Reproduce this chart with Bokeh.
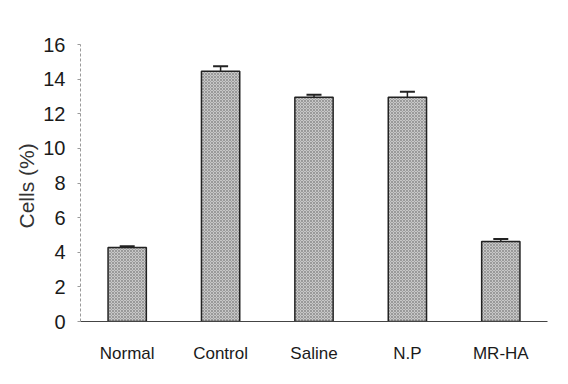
from bokeh.plotting import figure
from bokeh.models import ColumnDataSource, Whisker, TeeHead, FixedTicker, Range1d
from bokeh.embed import file_html
from bokeh.resources import INLINE

categories = ["Normal", "Control", "Saline", "N.P", "MR-HA"]
values = [4.28, 14.45, 12.95, 12.95, 4.62]
errors = [0.06, 0.3, 0.15, 0.32, 0.15]
y_ticks = [0, 2, 4, 6, 8, 10, 12, 14, 16]

src = ColumnDataSource(dict(
    cat=categories, val=values,
    up=[v + e for v, e in zip(values, errors)],
))

p = figure(x_range=categories, y_range=Range1d(0, 16), width=568, height=384,
           output_backend="svg", toolbar_location=None,
           min_border_left=80, min_border_right=21, min_border_top=44, min_border_bottom=63)
p.outline_line_color = None
p.xgrid.grid_line_color = None
p.ygrid.grid_line_color = None
p.background_fill_color = "white"
p.border_fill_color = "white"

p.vbar(x="cat", top="val", width=0.41, source=src,
       fill_color="#c8c8c8", line_color="#222222", line_width=1.5,
       hatch_pattern="x", hatch_color="#7a7a7a", hatch_scale=3, hatch_weight=0.6)

w = Whisker(base="cat", lower="val", upper="up", source=src,
            line_color="#222222", line_width=1.5,
            upper_head=TeeHead(size=15, line_color="#222222", line_width=2),
            lower_head=None)
p.add_layout(w)

font = "Liberation Sans"
p.yaxis.ticker = FixedTicker(ticks=y_ticks)
p.yaxis.axis_label = "Cells  (%)"
p.yaxis.axis_label_text_font = font
p.yaxis.axis_label_text_font_style = "normal"
p.yaxis.axis_label_text_font_size = "21px"
p.yaxis.axis_label_text_color = "#333333"
p.yaxis.axis_label_standoff = 2
p.yaxis.major_label_text_font = font
p.yaxis.major_label_text_font_size = "20px"
p.yaxis.major_label_text_color = "#1a1a1a"
p.yaxis.major_label_standoff = 12
p.yaxis.axis_line_color = "#9a9a9a"
p.yaxis.axis_line_dash = "3 2"
p.yaxis.major_tick_line_color = "#9a9a9a"
p.yaxis.major_tick_in = 0
p.yaxis.major_tick_out = 3
p.yaxis.minor_tick_line_color = None

p.xaxis.major_label_text_font = font
p.xaxis.major_label_text_font_size = "17px"
p.xaxis.major_label_text_color = "#1a1a1a"
p.xaxis.major_label_standoff = 16
p.xaxis.axis_line_color = "#444444"
p.xaxis.axis_line_width = 1.2
p.xaxis.major_tick_line_color = None
p.xaxis.minor_tick_line_color = None

open("out.html", "w").write(file_html(p, INLINE))
